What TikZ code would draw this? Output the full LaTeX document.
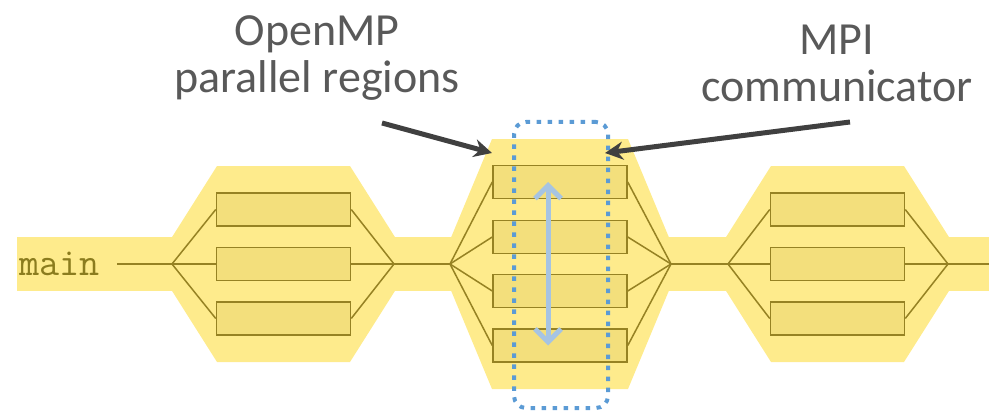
\documentclass[tikz,border=0pt]{standalone}
\usepackage{fontspec}
\setmainfont{Carlito}
\usetikzlibrary{arrows.meta}

\definecolor{bandyellow}{RGB}{254,235,140}
\definecolor{boxyellow}{RGB}{243,223,124}
\definecolor{threadline}{RGB}{150,130,35}
\definecolor{maintext}{RGB}{139,124,30}
\definecolor{labelgray}{RGB}{89,89,89}
\definecolor{arrowgray}{RGB}{64,64,64}
\definecolor{commblue}{RGB}{91,155,213}
\definecolor{msgblue}{RGB}{166,196,226}

\tikzset{
  thread/.style={draw=threadline, fill=boxyellow, line width=1.5pt,
    minimum width=134pt, minimum height=33pt, inner sep=0pt},
  fork/.style={draw=threadline, line width=1.5pt},
  labeltext/.style={align=center, inner sep=0pt, text=labelgray,
    font=\fontsize{46}{47}\selectfont},
  callout/.style={draw=arrowgray, line width=5pt, -{Stealth[length=18pt,width=18pt]}},
  commbox/.style={draw=commblue, line width=4pt, dash pattern=on 4.5pt off 6.5pt,
    rounded corners=12pt, minimum width=94pt, minimum height=286pt},
  msg/.style={draw=msgblue, line width=5pt,
    {Straight Barb[length=13pt,width=26pt]}-{Straight Barb[length=13pt,width=26pt]}},
}

\begin{document}
\begin{tikzpicture}[x=1pt,y=-1pt]
    \useasboundingbox (0,0) rectangle (989,412);
    % band and the three parallel regions
    \fill[bandyellow] (17,237) rectangle (989,291);
    \fill[bandyellow] (217,166) -- (350,166) -- (412,264) -- (350,362) -- (217,362) -- (155,264) -- cycle;
    \fill[bandyellow] (492,139) -- (628,139) -- (680,264) -- (628,389) -- (492,389) -- (440,264) -- cycle;
    \fill[bandyellow] (771,166) -- (904,166) -- (966,264) -- (904,362) -- (771,362) -- (709,264) -- cycle;

    % threads
    \foreach \i/\y in {1/209.5, 2/264, 3/318.5} {
        \node[thread] (a\i) at (283.5,\y) {};
        \node[thread] (c\i) at (837.5,\y) {};
    }
    \foreach \i/\y in {1/182, 2/237, 3/291, 4/345.5}
        \node[thread] (b\i) at (560,\y) {};

    \coordinate (forkA) at (172,264);
    \coordinate (joinA) at (394,264);
    \coordinate (forkB) at (450,264);
    \coordinate (joinB) at (671,264);
    \coordinate (forkC) at (728,264);
    \coordinate (joinC) at (948,264);
    \coordinate (start) at (117,264);
    \coordinate (finish) at (989,264);

    \node[anchor=base west, inner sep=0pt, text=maintext,
        font=\ttfamily\addfontfeature{FakeBold=1.5}\fontsize{39}{39}\selectfont] (main) at (19,275) {main};

    \draw[fork] (start) -- (forkA);
    \foreach \i in {1,2,3}
        \draw[fork] (forkA) -- (a\i.west) (a\i.east) -- (joinA);
    \draw[fork] (joinA) -- (forkB);
    \foreach \i in {1,...,4}
        \draw[fork] (forkB) -- (b\i.west) (b\i.east) -- (joinB);
    \draw[fork] (joinB) -- (forkC);
    \foreach \i in {1,2,3}
        \draw[fork] (forkC) -- (c\i.west) (c\i.east) -- (joinC);
    \draw[fork] (joinC) -- (finish);

    % communicator
    \node[commbox] (comm) at (561,265) {};
    \draw[msg] ([xshift=-12pt]b1.center) -- ([xshift=-12pt]b4.center);

    % labels
    \node[labeltext] (ompLabel) at (317,58) {OpenMP\\parallel regions};
    \node[labeltext] (mpiLabel) at (837,63.5) {MPI\\communicator};
    \coordinate (ompFrom) at (382,123);
    \coordinate (ompTip) at (492,153);
    \coordinate (mpiFrom) at (850,122);
    \coordinate (mpiTip) at (605,153);
    \draw[callout] (ompFrom) -- (ompTip);
    \draw[callout] (mpiFrom) -- (mpiTip);
\end{tikzpicture}
\end{document}
